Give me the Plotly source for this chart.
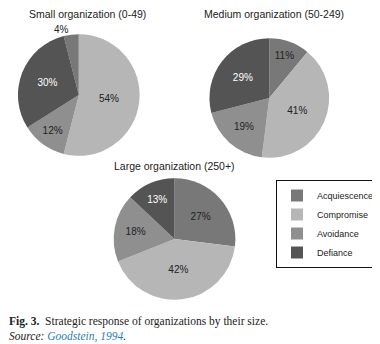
import plotly.graph_objects as go

labels = ["Acquiescence", "Compromise", "Avoidance", "Defiance"]
small_vals = [4, 54, 12, 30]
medium_vals = [11, 41, 19, 29]
large_vals = [27, 42, 18, 13]
titles = ["Small organization (0-49)", "Medium organization (50-249)", "Large organization (250+)"]

colors = ["#787878", "#b6b6b6", "#8f8f8f", "#545454"]
txt_colors = ["#222222", "#222222", "#222222", "#ffffff"]

# page body has an 8px margin; figure fills the rest of the 380x344 window
OFF = 8
W, H = 380 - OFF, 344 - OFF


def px(x):
    return (x - OFF) / W


def py(y):
    return 1 - (y - OFF) / H


def dom(cx, cy, r):
    return dict(x=[px(cx - r), px(cx + r)], y=[py(cy + r), py(cy - r)])


fig = go.Figure()
common = dict(labels=labels, sort=False, direction="clockwise",
              marker=dict(colors=colors, line=dict(width=0)),
              texttemplate="%{value}%", textinfo="text",
              insidetextorientation="horizontal", hoverinfo="label+value")

fig.add_trace(go.Pie(values=small_vals, domain=dom(79, 95, 61), rotation=-14.4,
                     textposition=["outside", "inside", "inside", "inside"],
                     textfont=dict(family="Liberation Sans", size=10, color=txt_colors),
                     outsidetextfont=dict(family="Liberation Sans", size=10, color="#222"),
                     **common))
fig.add_trace(go.Pie(values=medium_vals, domain=dom(270, 98, 60), rotation=0,
                     textposition="inside",
                     textfont=dict(family="Liberation Sans", size=10, color=txt_colors),
                     showlegend=False, **common))
fig.add_trace(go.Pie(values=large_vals, domain=dom(175, 239, 61), rotation=0,
                     textposition="inside",
                     textfont=dict(family="Liberation Sans", size=10, color=txt_colors),
                     showlegend=False, **common))

title_pos = [(88, 14), (275, 14), (175, 166)]
for t, (x, y) in zip(titles, title_pos):
    fig.add_annotation(text=t, x=px(x), y=py(y), xref="paper", yref="paper",
                       showarrow=False, xanchor="center", yanchor="middle",
                       font=dict(family="Liberation Sans", size=10.5, color="#222"))

fig.add_annotation(text="<b>Fig. 3.</b>  Strategic response of organizations by their size.",
                   x=px(7), y=py(321), xref="paper", yref="paper", showarrow=False,
                   xanchor="left", yanchor="middle",
                   font=dict(family="Liberation Serif", size=11.5, color="#222"))
fig.add_annotation(text="<i>Source: <span style='color:#2f7db5'>Goodstein, 1994</span>.</i>",
                   x=px(7), y=py(336), xref="paper", yref="paper", showarrow=False,
                   xanchor="left", yanchor="middle",
                   font=dict(family="Liberation Serif", size=11.5, color="#222"))

fig.update_layout(
    width=W, height=H, margin=dict(l=0, r=0, t=0, b=0),
    paper_bgcolor="white", plot_bgcolor="white",
    legend=dict(x=px(277), y=py(180), xanchor="left", yanchor="top",
                bordercolor="#111", borderwidth=1, bgcolor="white",
                font=dict(family="Liberation Sans", size=9, color="#222"),
                itemwidth=30, tracegroupgap=0),
)

fig.write_html("out.html")
